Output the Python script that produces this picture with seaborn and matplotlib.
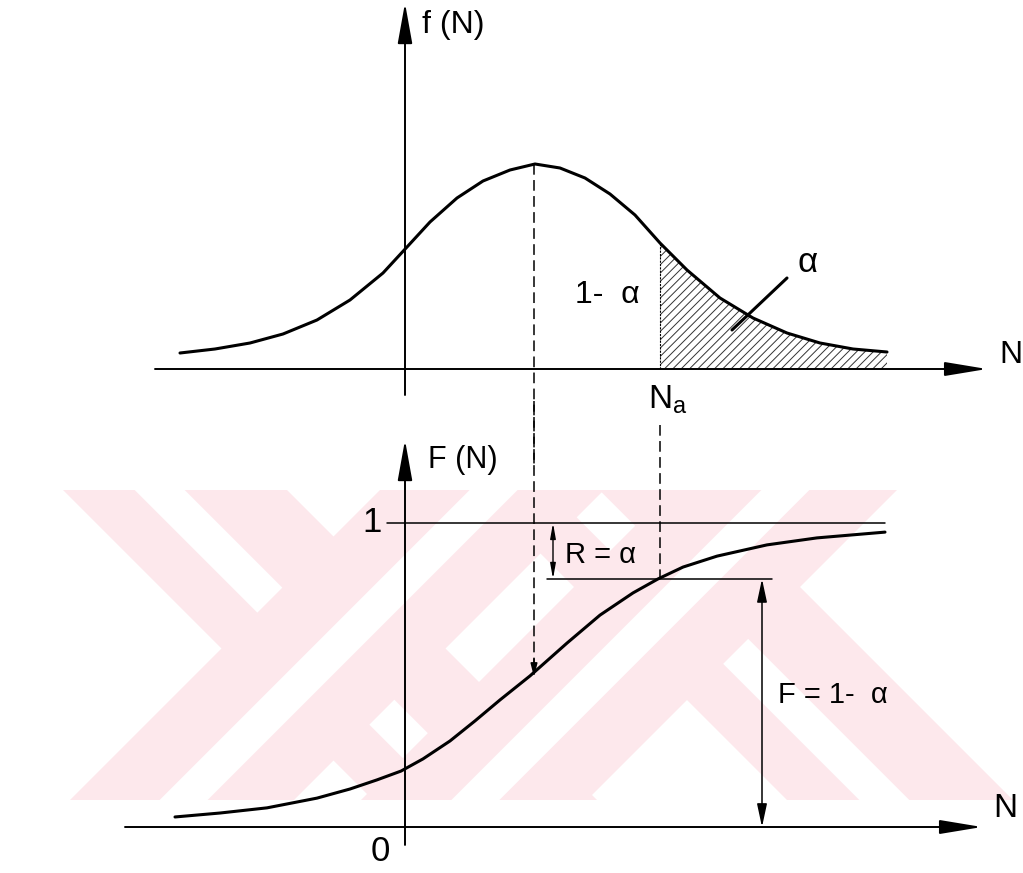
import matplotlib
matplotlib.use("Agg")
import matplotlib.pyplot            as plt
from    matplotlib.patches          import Polygon, Rectangle, ArrowStyle
import numpy                        as np
import seaborn                      as sns

# Valores (N: eje horizontal, origen en el eje vertical)
n_pdf   = [-2.25, -1.90, -1.55, -1.22, -0.88, -0.55, -0.22, 0.02, 0.25, 0.52, 0.78, 1.05,
           1.30, 1.55, 1.80, 2.05, 2.30, 2.55, 2.82, 3.15, 3.48, 3.82, 4.15, 4.48, 4.82]
f_pdf   = [0.032, 0.040, 0.052, 0.070, 0.098, 0.138, 0.192, 0.244, 0.294, 0.342, 0.376, 0.398,
           0.410, 0.402, 0.382, 0.350, 0.308, 0.252, 0.198, 0.142, 0.102, 0.072, 0.052, 0.040, 0.034]

n_cdf   = [-2.30, -1.85, -1.38, -0.88, -0.55, -0.28, -0.04, 0.18, 0.45, 0.70, 0.95,
           1.25, 1.62, 1.95, 2.28, 2.53, 2.78, 3.12, 3.62, 4.12, 4.80]
F_cdf   = [0.033, 0.046, 0.063, 0.095, 0.125, 0.155, 0.184, 0.224, 0.283, 0.349, 0.418,
           0.497, 0.605, 0.697, 0.770, 0.816, 0.855, 0.891, 0.928, 0.951, 0.970]

n_media     = 1.29      # pico de f(N)
F_media     = 0.493     # F en la media
n_alfa      = 2.55      # N_a
F_alfa      = 0.816     # 1 - alfa

sns.set_theme(style="white")
plt.rcParams['font.family'] = ['Liberation Sans', 'DejaVu Sans']
plt.rcParams['text.color'] = 'black'
plt.rcParams['hatch.linewidth'] = 0.7

fig = plt.figure(figsize=(10.23, 8.73), dpi=100)
fig.patch.set_facecolor("white")

# ---- marca de agua (fondo rosa) ----
ax_bg = fig.add_axes([0, 0, 1, 1], zorder=0)
ax_bg.set_xlim(0, 1023)
ax_bg.set_ylim(873, 0)
ax_bg.axis("off")
rosa = "#fde8ec"
clip = Rectangle((0, 490), 1023, 310, transform=ax_bg.transData)

def banda(x0, w, d, color):
    p = Polygon([(x0, 490), (x0 + w, 490), (x0 + w + d * 310, 800), (x0 + d * 310, 800)],
                closed=True, facecolor=color, edgecolor="none")
    ax_bg.add_patch(p)
    p.set_clip_path(clip)

for x0, w, d in [(63, 224, 1), (477, 226, 1)]:
    banda(x0, w, d, rosa)
for x0, w, d in [(63, 224, 1), (477, 226, 1)]:
    banda(x0 + 0.32 * w, 50, d, "white")
for x0, w, d in [(380, 224, -1), (671, 226, -1)]:
    banda(x0, w, d, rosa)
for x0, w, d in [(380, 224, -1), (671, 226, -1)]:
    banda(x0 + 0.40 * w, 48, d, "white")

# ---- ejes ----
ax1 = fig.add_axes([0, 443 / 873, 1, 430 / 873], zorder=1)
ax2 = fig.add_axes([0, 0, 1, 443 / 873], zorder=1)
for ax in (ax1, ax2):
    ax.set_xlim(-4.05, 6.18)
    ax.patch.set_alpha(0)
    ax.axis("off")
ax1.set_ylim(-0.122, 0.738)
ax2.set_ylim(-0.1513, 1.3059)

def flecha(ax, tail, tip, hl, hw, lw, estilo="-|>"):
    ax.annotate("", xy=tip, xytext=tail,
                arrowprops=dict(arrowstyle=ArrowStyle(estilo, head_length=hl, head_width=hw),
                                mutation_scale=1, color="black", lw=lw,
                                shrinkA=0, shrinkB=0),
                annotation_clip=False)

# ---- f(N) ----
sns.lineplot(x=n_pdf, y=f_pdf, ax=ax1, color="black", lw=2.2)
n_arr = np.array(n_pdf)
cola = n_arr >= n_alfa
ax1.fill_between(n_arr[cola], 0, np.array(f_pdf)[cola], facecolor="none",
                 edgecolor="#333333", hatch="////", linewidth=0)
ax1.plot([n_alfa, n_alfa], [0, f_pdf[n_pdf.index(n_alfa)]], color="black", lw=0.8, ls=(0, (2, 1)))

flecha(ax1, (-2.5, 0), (5.82, 0), 26, 4.3, 1.4)
flecha(ax1, (0, -0.052), (0, 0.732), 25, 4.5, 1.4)
ax1.plot([n_media, n_media], [max(f_pdf), -0.2], color="black", lw=1.1,
         ls=(0, (7, 3.5)), clip_on=False)
ax1.plot([3.82, 3.27], [0.182, 0.078], color="black", lw=2.2)

ax1.text(0.17, 0.688, "f (N)", fontsize=23, va="center", ha="left")
ax1.text(5.94, 0.028, "N", fontsize=23, va="center", ha="left")
ax1.text(1.70, 0.148, "1-  α", fontsize=23, va="center", ha="left")
ax1.text(4.03, 0.212, "α", fontsize=25, va="center", ha="center")
ax1.text(2.43, -0.062, r"N$_\mathregular{a}$", fontsize=24, va="center", ha="left")

# ---- F(N) ----
sns.lineplot(x=n_cdf, y=F_cdf, ax=ax2, color="black", lw=2.2)
flecha(ax2, (-2.8, 0), (5.77, 0), 26, 4.3, 1.4)
flecha(ax2, (0, -0.059), (0, 1.273), 25, 4.5, 1.4)
ax2.plot([-0.18, 4.8], [1, 1], color="black", lw=1.1)
ax2.plot([1.42, 3.67], [F_alfa, F_alfa], color="black", lw=1.1)

ax2.plot([n_media, n_media], [1.4, F_media + 0.03], color="black", lw=1.1,
         ls=(0, (7, 3.5)), clip_on=False)
flecha(ax2, (n_media, F_media + 0.06), (n_media, F_media), 8, 2, 1.1)
ax2.plot([n_alfa, n_alfa], [1.322, F_alfa], color="black", lw=1.1,
         ls=(0, (7, 3.5)), clip_on=False)

flecha(ax2, (1.48, F_alfa), (1.48, 1), 9, 1.6, 1.0, "<|-|>")
flecha(ax2, (3.57, 0), (3.57, F_alfa), 14, 3, 1.1, "<|-|>")

ax2.text(0.23, 1.207, "F (N)", fontsize=22, va="center", ha="left")
ax2.text(-0.33, 1.003, "1", fontsize=25, va="center", ha="center")
ax2.text(-0.25, -0.082, "0", fontsize=25, va="center", ha="center")
ax2.text(5.88, 0.0625, "N", fontsize=24, va="center", ha="left")
ax2.text(1.60, 0.895, "R = α", fontsize=21, va="center", ha="left")
ax2.text(3.73, 0.434, "F = 1-  α", fontsize=21, va="center", ha="left")

fig.savefig("out.png", dpi=100)
